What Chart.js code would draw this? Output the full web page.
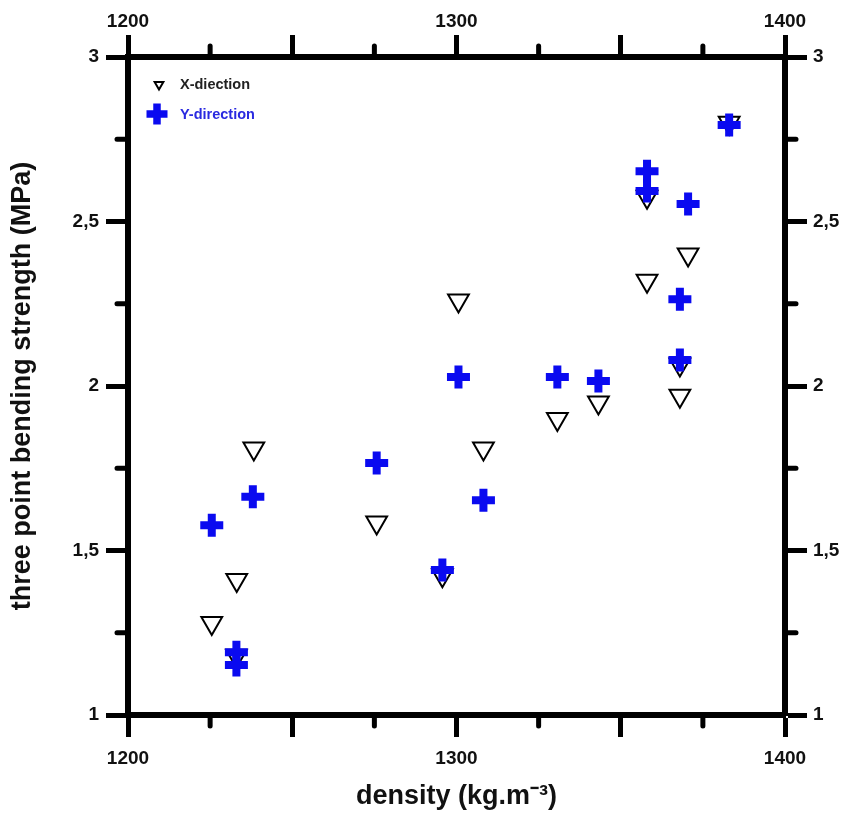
<!DOCTYPE html>
<html>
<head>
<meta charset="utf-8">
<script src="https://cdn.jsdelivr.net/npm/chart.js@4/dist/chart.umd.min.js"></script>
<style>
  html, body { margin: 0; padding: 0; background: #fff; }
  #wrap { width: 861px; height: 814px; }
</style>
</head>
<body>
<div id="wrap"><canvas id="c" width="861" height="814"></canvas></div>
<script>
// ---- data ----
const xDensity = [1225.5, 1233.1, 1238.3, 1233.0, 1275.7, 1295.7, 1300.6, 1308.2, 1330.7, 1343.2, 1358.0, 1358.0, 1368.0, 1368.0, 1370.5, 1383.0];
const xStrength = [1.28, 1.41, 1.81, 1.18, 1.585, 1.425, 2.26, 1.81, 1.90, 1.95, 2.575, 2.32, 2.065, 1.97, 2.40, 2.80];

const yDensity = [1225.5, 1233.0, 1233.0, 1238.0, 1275.7, 1295.7, 1300.6, 1308.2, 1330.7, 1343.2, 1358.0, 1358.0, 1368.0, 1368.0, 1370.5, 1383.0];
const yStrength = [1.577, 1.191, 1.152, 1.663, 1.766, 1.441, 2.027, 1.653, 2.027, 2.015, 2.653, 2.593, 2.264, 2.079, 2.553, 2.793];

const seriesLabels = ['X-diection', 'Y-direction'];
const xTitle = 'density (kg.m\u207B\u00B3)';
const yTitle = 'three point bending strength (MPa)';
const xMinorTicks = [1225, 1275, 1325, 1375];
const yMinorTicks = [1.25, 1.75, 2.25, 2.75];
const xLabelled = [1200, 1300, 1400];

const BLUE = '#0a0af0';

function toPts(xs, ys) { return xs.map((x, i) => ({ x: x, y: ys[i] })); }

const tickFont = { family: 'Liberation Sans, Arial, sans-serif', size: 19, weight: 'bold' };
const titleFont = { family: 'Liberation Sans, Arial, sans-serif', size: 27, weight: 'bold' };

function xTickCb(v) { return xLabelled.includes(v) ? String(v) : ''; }
function yTickCb(v) { return String(v).replace('.', ','); }

function axisCommon() {
  return {
    grid: { drawOnChartArea: false, drawTicks: true, tickLength: 22, tickWidth: 5, tickColor: '#000' },
    border: { display: true, width: 6, color: '#000' }
  };
}

const minorTickPlugin = {
  id: 'minorTicks',
  afterDraw(chart) {
    const ctx = chart.ctx, a = chart.chartArea;
    const sx = chart.scales.x, sy = chart.scales.y;
    ctx.save();
    ctx.strokeStyle = '#000';
    ctx.lineWidth = 5;
    ctx.lineCap = 'round';
    ctx.beginPath();
    xMinorTicks.forEach(v => {
      const px = sx.getPixelForValue(v);
      ctx.moveTo(px, a.bottom); ctx.lineTo(px, a.bottom + 11);
      ctx.moveTo(px, a.top); ctx.lineTo(px, a.top - 11);
    });
    yMinorTicks.forEach(v => {
      const py = sy.getPixelForValue(v);
      ctx.moveTo(a.left, py); ctx.lineTo(a.left - 11, py);
      ctx.moveTo(a.right, py); ctx.lineTo(a.right + 11, py);
    });
    ctx.stroke();
    ctx.restore();
  }
};

const legendPlugin = {
  id: 'innerLegend',
  afterDraw(chart) {
    const ctx = chart.ctx, a = chart.chartArea;
    ctx.save();
    // triangle (down)
    const tx = a.left + 31, ty = a.top + 28, r = 5;
    ctx.beginPath();
    ctx.moveTo(tx - r * 0.87, ty - r * 0.6);
    ctx.lineTo(tx + r * 0.87, ty - r * 0.6);
    ctx.lineTo(tx, ty + r * 0.9);
    ctx.closePath();
    ctx.fillStyle = '#fff'; ctx.fill();
    ctx.strokeStyle = '#000'; ctx.lineWidth = 2; ctx.stroke();
    // plus
    const px = a.left + 29, py = a.top + 57, pr = 10.5;
    ctx.beginPath();
    ctx.moveTo(px - pr, py); ctx.lineTo(px + pr, py);
    ctx.moveTo(px, py - pr); ctx.lineTo(px, py + pr);
    ctx.strokeStyle = BLUE; ctx.lineWidth = 7.5; ctx.stroke();
    ctx.font = 'bold 14.5px Liberation Sans, Arial, sans-serif';
    ctx.textBaseline = 'middle';
    ctx.textAlign = 'left';
    ctx.fillStyle = '#222';
    ctx.fillText(chart.data.datasets[1].label, a.left + 52, ty);
    ctx.fillStyle = '#2a2ae0';
    ctx.fillText(chart.data.datasets[0].label, a.left + 52, py + 1);
    ctx.restore();
  }
};

new Chart(document.getElementById('c'), {
  type: 'scatter',
  data: {
    datasets: [
      {
        label: seriesLabels[1],
        data: toPts(yDensity, yStrength),
        pointStyle: 'cross',
        pointRadius: 11.5,
        pointHoverRadius: 11.5,
        borderColor: BLUE,
        backgroundColor: BLUE,
        pointBorderWidth: 8,
        pointHoverBorderWidth: 8,
        order: 0
      },
      {
        label: seriesLabels[0],
        data: toPts(xDensity, xStrength),
        pointStyle: 'triangle',
        rotation: 180,
        pointRadius: 12,
        pointHoverRadius: 12,
        borderColor: '#000',
        backgroundColor: '#fff',
        pointBorderWidth: 2,
        pointHoverBorderWidth: 2,
        order: 1
      }
    ]
  },
  options: {
    responsive: false,
    animation: false,
    events: [],
    layout: { padding: 0 },
    plugins: { legend: { display: false }, tooltip: { enabled: false } },
    scales: {
      x: Object.assign(axisCommon(), {
        type: 'linear', position: 'bottom', min: 1200, max: 1400,
        ticks: { stepSize: 50, callback: xTickCb, font: tickFont, color: '#111', padding: 10, maxRotation: 0, autoSkip: false },
        title: { display: true, text: xTitle, font: titleFont, color: '#111', padding: { top: 0, bottom: 1 } },
        afterFit(s) { s.height = 99; }
      }),
      x2: Object.assign(axisCommon(), {
        type: 'linear', position: 'top', min: 1200, max: 1400,
        ticks: { stepSize: 50, callback: xTickCb, font: tickFont, color: '#111', padding: 2, maxRotation: 0, autoSkip: false },
        afterFit(s) { s.height = 57; }
      }),
      y: Object.assign(axisCommon(), {
        type: 'linear', position: 'left', min: 1, max: 3,
        ticks: { stepSize: 0.5, callback: yTickCb, font: tickFont, color: '#111', padding: 7 },
        title: { display: true, text: yTitle, font: titleFont, color: '#111', padding: { top: 6, bottom: 0 } },
        afterFit(s) { s.width = 128; }
      }),
      y2: Object.assign(axisCommon(), {
        type: 'linear', position: 'right', min: 1, max: 3,
        ticks: { stepSize: 0.5, callback: yTickCb, font: tickFont, color: '#111', padding: 6 },
        afterFit(s) { s.width = 76; }
      })
    }
  },
  plugins: [minorTickPlugin, legendPlugin]
});
</script>
</body>
</html>
